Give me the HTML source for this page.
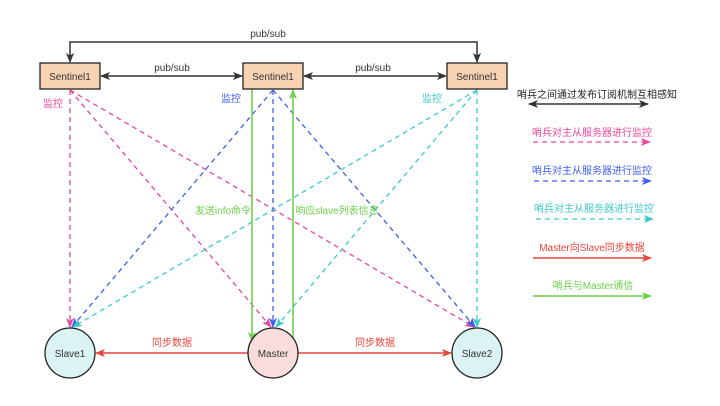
<!DOCTYPE html>
<html>
<head>
<meta charset="utf-8">
<style>
html,body{margin:0;padding:0;background:#fff;}
svg{display:block;}
text{font-family:"Liberation Sans","Noto Sans CJK SC",sans-serif;}
</style>
</head>
<body>
<svg width="720" height="406" viewBox="0 0 720 406" xmlns="http://www.w3.org/2000/svg">
<defs>
  <marker id="ak" markerWidth="10" markerHeight="8" refX="9" refY="4" orient="auto-start-reverse" markerUnits="userSpaceOnUse">
    <path d="M0,0 L10,4 L0,8 L2.5,4 Z" fill="#333"/>
  </marker>
  <marker id="ap" markerWidth="10" markerHeight="8" refX="9" refY="4" orient="auto" markerUnits="userSpaceOnUse">
    <path d="M0,0 L10,4 L0,8 L2.5,4 Z" fill="#e8489c"/>
  </marker>
  <marker id="ab" markerWidth="10" markerHeight="8" refX="9" refY="4" orient="auto" markerUnits="userSpaceOnUse">
    <path d="M0,0 L10,4 L0,8 L2.5,4 Z" fill="#3d5ef0"/>
  </marker>
  <marker id="at" markerWidth="10" markerHeight="8" refX="9" refY="4" orient="auto" markerUnits="userSpaceOnUse">
    <path d="M0,0 L10,4 L0,8 L2.5,4 Z" fill="#3ec9c9"/>
  </marker>
  <marker id="ar" markerWidth="10" markerHeight="8" refX="9" refY="4" orient="auto" markerUnits="userSpaceOnUse">
    <path d="M0,0 L10,4 L0,8 L2.5,4 Z" fill="#e8443c"/>
  </marker>
  <marker id="ag" markerWidth="10" markerHeight="8" refX="9" refY="4" orient="auto" markerUnits="userSpaceOnUse">
    <path d="M0,0 L10,4 L0,8 L2.5,4 Z" fill="#6fd04c"/>
  </marker>
</defs>

<!-- top pub/sub -->
<path d="M70,62 L70,42 L477,42 L477,62" fill="none" stroke="#333" stroke-width="1.5" marker-start="url(#ak)" marker-end="url(#ak)"/>
<text x="268" y="37" font-size="10" fill="#333" text-anchor="middle">pub/sub</text>

<!-- middle pub/sub -->
<line x1="101" y1="76" x2="242" y2="76" stroke="#333" stroke-width="1.5" marker-start="url(#ak)" marker-end="url(#ak)"/>
<text x="172" y="71" font-size="10" fill="#333" text-anchor="middle">pub/sub</text>
<line x1="304" y1="76" x2="446" y2="76" stroke="#333" stroke-width="1.5" marker-start="url(#ak)" marker-end="url(#ak)"/>
<text x="373" y="71" font-size="10" fill="#333" text-anchor="middle">pub/sub</text>

<!-- pink dashed from left sentinel -->
<g stroke="#e8489c" stroke-width="1.3" stroke-dasharray="5,4" fill="none">
  <line x1="70" y1="90" x2="70" y2="327" marker-end="url(#ap)"/>
  <line x1="70" y1="90" x2="271" y2="327" marker-end="url(#ap)"/>
  <line x1="70" y1="90" x2="474" y2="327" marker-end="url(#ap)"/>
</g>
<!-- blue dashed from middle sentinel -->
<g stroke="#3d5ef0" stroke-width="1.3" stroke-dasharray="5,4" fill="none">
  <line x1="273" y1="90" x2="72" y2="327" marker-end="url(#ab)"/>
  <line x1="273" y1="90" x2="273" y2="327" marker-end="url(#ab)"/>
  <line x1="273" y1="90" x2="475" y2="327" marker-end="url(#ab)"/>
</g>
<!-- teal dashed from right sentinel -->
<g stroke="#3ec9c9" stroke-width="1.3" stroke-dasharray="5,4" fill="none">
  <line x1="477" y1="90" x2="73" y2="327" marker-end="url(#at)"/>
  <line x1="477" y1="90" x2="276" y2="327" marker-end="url(#at)"/>
  <line x1="477" y1="90" x2="477" y2="327" marker-end="url(#at)"/>
</g>

<!-- green lines -->
<line x1="252" y1="89" x2="252" y2="341" stroke="#6fd04c" stroke-width="1.6" marker-end="url(#ag)"/>
<line x1="293" y1="338" x2="293" y2="90" stroke="#6fd04c" stroke-width="1.6" marker-end="url(#ag)"/>
<text x="223" y="214" font-size="10" fill="#6fd04c" text-anchor="middle">发送info命令</text>
<text x="337" y="214" font-size="10" fill="#6fd04c" text-anchor="middle">响应slave列表信息</text>

<!-- 监控 labels -->
<text x="53" y="107" font-size="10" fill="#e8489c" text-anchor="middle">监控</text>
<text x="231" y="102" font-size="10" fill="#3d5ef0" text-anchor="middle">监控</text>
<text x="432" y="102" font-size="10" fill="#3ec9c9" text-anchor="middle">监控</text>

<!-- sentinel boxes -->
<rect x="40" y="63" width="60" height="26" fill="#f8d3b3" stroke="#222" stroke-width="1.3"/>
<text x="70" y="80" font-size="10" fill="#333" text-anchor="middle">Sentinel1</text>
<rect x="243" y="63" width="60" height="26" fill="#f8d3b3" stroke="#222" stroke-width="1.3"/>
<text x="273" y="80" font-size="10" fill="#333" text-anchor="middle">Sentinel1</text>
<rect x="447" y="63" width="60" height="26" fill="#f8d3b3" stroke="#222" stroke-width="1.3"/>
<text x="477" y="80" font-size="10" fill="#333" text-anchor="middle">Sentinel1</text>

<!-- red sync lines -->
<line x1="248" y1="353" x2="96" y2="353" stroke="#e8443c" stroke-width="1.4" marker-end="url(#ar)"/>
<line x1="298" y1="353" x2="451" y2="353" stroke="#e8443c" stroke-width="1.4" marker-end="url(#ar)"/>
<text x="172" y="346" font-size="10" fill="#e8443c" text-anchor="middle">同步数据</text>
<text x="375" y="346" font-size="10" fill="#e8443c" text-anchor="middle">同步数据</text>

<!-- circles -->
<circle cx="70" cy="353" r="25" fill="#dcf3f3" stroke="#222" stroke-width="1.3"/>
<text x="70" y="357" font-size="10" fill="#333" text-anchor="middle">Slave1</text>
<circle cx="273" cy="353" r="25" fill="#f9dcdc" stroke="#222" stroke-width="1.3"/>
<text x="273" y="357" font-size="10" fill="#333" text-anchor="middle">Master</text>
<circle cx="477" cy="353" r="25" fill="#dcf3f3" stroke="#222" stroke-width="1.3"/>
<text x="477" y="357" font-size="10" fill="#333" text-anchor="middle">Slave2</text>

<!-- legend -->
<text x="597" y="98" font-size="10" fill="#222" text-anchor="middle">哨兵之间通过发布订阅机制互相感知</text>
<line x1="529" y1="104" x2="648" y2="104" stroke="#333" stroke-width="1.5" marker-start="url(#ak)" marker-end="url(#ak)"/>

<text x="592" y="136" font-size="10" fill="#e8489c" text-anchor="middle">哨兵对主从服务器进行监控</text>
<line x1="533" y1="142" x2="650" y2="142" stroke="#e8489c" stroke-width="1.3" stroke-dasharray="5,4" marker-end="url(#ap)"/>

<text x="592" y="174" font-size="10" fill="#3d5ef0" text-anchor="middle">哨兵对主从服务器进行监控</text>
<line x1="534" y1="181" x2="651" y2="181" stroke="#3d5ef0" stroke-width="1.3" stroke-dasharray="5,4" marker-end="url(#ab)"/>

<text x="594" y="212" font-size="10" fill="#3ec9c9" text-anchor="middle">哨兵对主从服务器进行监控</text>
<line x1="536" y1="219" x2="653" y2="219" stroke="#3ec9c9" stroke-width="1.3" stroke-dasharray="5,4" marker-end="url(#at)"/>

<text x="592" y="251" font-size="10" fill="#e8443c" text-anchor="middle">Master向Slave同步数据</text>
<line x1="533" y1="258" x2="651" y2="258" stroke="#e8443c" stroke-width="1.4" marker-end="url(#ar)"/>

<text x="593" y="289" font-size="10" fill="#6fd04c" text-anchor="middle">哨兵与Master通信</text>
<line x1="533" y1="296" x2="651" y2="296" stroke="#6fd04c" stroke-width="1.6" marker-end="url(#ag)"/>
</svg>
</body>
</html>
